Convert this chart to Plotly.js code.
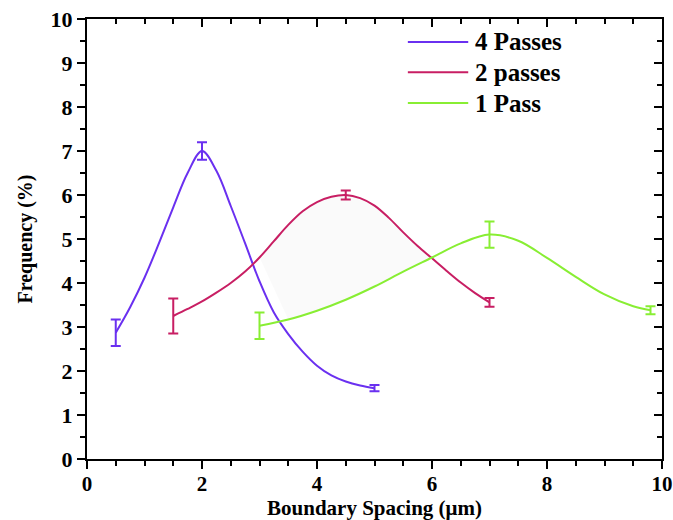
<!DOCTYPE html>
<html>
<head>
<meta charset="utf-8">
<script src="https://cdn.plot.ly/plotly-3.0.1.min.js"></script>
<style>html,body{margin:0;padding:0;background:#fff;}#chart{width:673px;height:520px;}</style>
</head>
<body>
<div id="chart"></div>
<script>
// Series names
const seriesNames = ["4 Passes", "2 passes", "1 Pass"];

// Measured points with error bars
const pts4x = [0.5, 2.0, 5.0];
const pts4y = [2.87, 7.0, 1.61];
const pts4e = [0.3, 0.2, 0.07];

const pts2x = [1.5, 4.5, 7.0];
const pts2y = [3.25, 6.0, 3.56];
const pts2e = [0.4, 0.1, 0.1];

const pts1x = [3.0, 7.0, 9.8];
const pts1y = [3.03, 5.1, 3.38];
const pts1e = [0.3, 0.3, 0.09];

// Fitted curves
const fit4x = [0.5, 0.75, 1.0, 1.25, 1.5, 1.75, 2.0, 2.25, 2.5, 2.75, 3.0, 3.25, 3.5, 3.75, 4.0, 4.25, 4.5, 4.75, 5.0];
const fit4y = [2.87, 3.45, 4.12, 4.9, 5.72, 6.5, 7.0, 6.55, 5.75, 4.9, 4.04, 3.33, 2.84, 2.44, 2.12, 1.9, 1.76, 1.67, 1.61];

const fit2x = [1.5, 1.75, 2.0, 2.25, 2.5, 2.75, 3.0, 3.25, 3.5, 3.75, 4.0, 4.25, 4.5, 4.75, 5.0, 5.25, 5.5, 5.75, 6.0, 6.25, 6.5, 6.75, 7.0];
const fit2y = [3.25, 3.41, 3.58, 3.78, 4.0, 4.26, 4.58, 4.95, 5.32, 5.63, 5.84, 5.96, 6.0, 5.93, 5.76, 5.48, 5.15, 4.84, 4.56, 4.28, 4.01, 3.77, 3.56];

const fit1x = [3.0, 3.5, 4.0, 4.5, 5.0, 5.5, 6.0, 6.5, 7.0, 7.5, 8.0, 8.5, 9.0, 9.5, 9.8];
const fit1y = [3.03, 3.17, 3.37, 3.62, 3.92, 4.26, 4.58, 4.9, 5.1, 4.96, 4.57, 4.14, 3.74, 3.47, 3.38];

const colors = ["#6a30f0", "#c81e63", "#88ee33"];
const fillLo = 2.9, fillHi = 6.0, fillLoGreen = 3.4;

// faint shaded region between the 2-pass and 1-pass curves
const shadeX = [], shadeY = [];
fit2x.forEach((x, i) => { if (x >= fillLo && x <= fillHi) { shadeX.push(x); shadeY.push(fit2y[i]); } });
for (let i = fit1x.length - 1; i >= 0; i--) {
  if (fit1x[i] >= fillLoGreen && fit1x[i] <= fillHi) { shadeX.push(fit1x[i]); shadeY.push(fit1y[i]); }
}

const F = "Liberation Serif, Times New Roman, serif";
const traces = [];
traces.push({x: shadeX, y: shadeY, mode: 'lines', fill: 'toself', fillcolor: 'rgba(0,0,0,0.02)',
  line: {width: 0, shape: 'spline'}, showlegend: false, hoverinfo: 'skip'});

const fits = [[fit4x, fit4y], [fit2x, fit2y], [fit1x, fit1y]];
const ptsAll = [[pts4x, pts4y, pts4e], [pts2x, pts2y, pts2e], [pts1x, pts1y, pts1e]];
fits.forEach((f, i) => {
  traces.push({x: f[0], y: f[1], mode: 'lines', name: seriesNames[i], showlegend: false,
    line: {color: colors[i], width: 2, shape: 'spline', smoothing: 1}});
});
ptsAll.forEach((p, i) => {
  traces.push({x: p[0], y: p[1], mode: 'markers', showlegend: false,
    marker: {size: 1, color: 'rgba(0,0,0,0)'},
    error_y: {type: 'data', array: p[2], visible: true, color: colors[i], thickness: 2, width: 5}});
});
traces.push({x: [null], y: [null], xaxis: 'x2', yaxis: 'y2', showlegend: false, hoverinfo: 'skip'});

// hand-placed legend (paper coordinates)
const legX0 = 0.558, legX1 = 0.663, legTextX = 0.672;
const legY = [0.948, 0.879, 0.809];
const shapes = [], annotations = [];
seriesNames.forEach((n, i) => {
  shapes.push({type: 'line', xref: 'paper', yref: 'paper', x0: legX0, x1: legX1, y0: legY[i], y1: legY[i],
    line: {color: colors[i], width: 2}});
  annotations.push({xref: 'paper', yref: 'paper', x: legTextX, y: legY[i], xanchor: 'left', yanchor: 'middle',
    text: n, showarrow: false, font: {family: F, size: 25, weight: 'bold', color: '#000'}});
});

const axBase = {range: [0, 10], showline: true, linecolor: '#000', linewidth: 2, showgrid: false, zeroline: false,
  ticklen: 8, tickwidth: 2, tickcolor: '#000'};

const layout = {
  width: 673, height: 520,
  margin: {l: 87, r: 11, t: 19, b: 61},
  paper_bgcolor: '#fff', plot_bgcolor: '#fff',
  font: {family: F, color: '#000'},
  showlegend: false,
  shapes: shapes, annotations: annotations,
  xaxis: Object.assign({}, axBase, {ticks: 'outside', dtick: 2, tick0: 0, ticklabelstandoff: -3,
    tickfont: {family: F, size: 21, weight: 'bold'},
    minor: {dtick: 0.5, ticks: 'outside', ticklen: 5, tickwidth: 2, tickcolor: '#000'},
    title: {text: 'Boundary Spacing (μm)', font: {family: F, size: 21, weight: 'bold'}, standoff: 6}}),
  yaxis: Object.assign({}, axBase, {ticks: 'outside', dtick: 1, tick0: 0,
    tickfont: {family: F, size: 22, weight: 'bold'},
    minor: {dtick: 0.5, ticks: 'outside', ticklen: 5, tickwidth: 2, tickcolor: '#000'},
    title: {text: 'Frequency (%)', font: {family: F, size: 20, weight: 'bold'}, standoff: 13}}),
  xaxis2: Object.assign({}, axBase, {overlaying: 'x', side: 'top', anchor: 'y2', ticks: 'inside', dtick: 2, tick0: 0,
    showticklabels: false,
    minor: {dtick: 0.5, ticks: 'inside', ticklen: 5, tickwidth: 2, tickcolor: '#000'}}),
  yaxis2: Object.assign({}, axBase, {overlaying: 'y', side: 'right', anchor: 'x2', ticks: 'inside', dtick: 1, tick0: 0,
    showticklabels: false,
    minor: {dtick: 0.5, ticks: 'inside', ticklen: 5, tickwidth: 2, tickcolor: '#000'}})
};

Plotly.newPlot('chart', traces, layout, {staticPlot: true, displayModeBar: false});
</script>
</body>
</html>
